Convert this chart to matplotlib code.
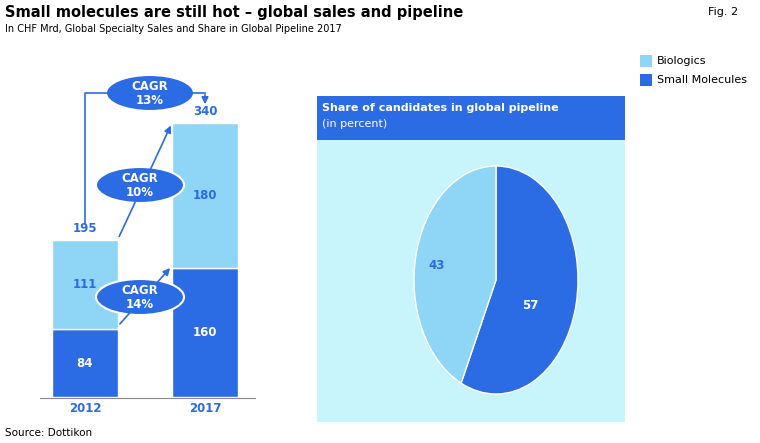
import matplotlib
matplotlib.use("Agg")
import matplotlib.pyplot as plt
from matplotlib.patches import Ellipse, Rectangle

years = ["2012", "2017"]
small = [84, 160]
bio = [111, 180]
totals = [195, 340]
pie_labels = ["Small Molecules", "Biologics"]
pie_vals = [57, 43]
cagr = ["CAGR\n13%", "CAGR\n10%", "CAGR\n14%"]

DARK = "#2b6be3"
LIGHT = "#8fd5f6"
PANEL = "#c8f4fb"
W, H = 760, 443
fig = plt.figure(figsize=(7.6, 4.43), dpi=100)

def ax_px(x0, y0, x1, y1):
    return fig.add_axes([x0 / W, 1 - y1 / H, (x1 - x0) / W, (y1 - y0) / H])

# background
bg = fig.add_axes([0, 0, 1, 1]); bg.set_xlim(0, W); bg.set_ylim(H, 0); bg.axis("off")
bg.add_patch(Rectangle((317, 96), 308, 44, facecolor=DARK, edgecolor="none"))
bg.add_patch(Rectangle((317, 140), 308, 282, facecolor=PANEL, edgecolor="none"))

# bars
bx = ax_px(30, 123, 260, 397)
bx.set_xlim(-0.458, 1.458); bx.set_ylim(0, 340); bx.axis("off")
xs = [0, 1]
bx.bar(xs, small, width=0.55, color=DARK, edgecolor="white", linewidth=1)
bx.bar(xs, bio, bottom=small, width=0.55, color=LIGHT, edgecolor="white", linewidth=1)
for i in xs:
    bx.text(i, small[i] / 2, str(small[i]), color="white", ha="center", va="center", fontsize=8.5, fontweight="bold")
    bx.text(i, small[i] + bio[i] / 2, str(bio[i]), color=DARK, ha="center", va="center", fontsize=8.5, fontweight="bold")
    bx.text(i, totals[i] + 6, str(totals[i]), color=DARK, ha="center", va="bottom", fontsize=8.5, fontweight="bold")

# pie
px = ax_px(414, 166, 578, 394)
px.pie(pie_vals, colors=[DARK, LIGHT], startangle=90, counterclock=False,
       wedgeprops=dict(edgecolor="white", linewidth=1))
px.set_aspect("auto")
px.set_xlim(-1.0, 1.0); px.set_ylim(-1.0, 1.0)
px.text(0.42, -0.22, str(pie_vals[0]), color="white", fontsize=8.5, fontweight="bold", ha="center", va="center")
px.text(-0.72, 0.13, str(pie_vals[1]), color=DARK, fontsize=8.5, fontweight="bold", ha="center", va="center")

# overlay
ov = fig.add_axes([0, 0, 1, 1]); ov.set_xlim(0, W); ov.set_ylim(H, 0); ov.axis("off")
ov.patch.set_alpha(0)
ov.text(5, 12, "Small molecules are still hot – global sales and pipeline", fontsize=10.5, fontweight="bold", va="center")
ov.text(5, 29, "In CHF Mrd, Global Specialty Sales and Share in Global Pipeline 2017", fontsize=7, va="center")
ov.text(708, 12, "Fig. 2", fontsize=8, va="center")
ov.text(5, 433, "Source: Dottikon", fontsize=7.5, va="center")
ov.plot([40, 255], [397.5, 397.5], color="#888888", lw=0.8)
for x, y in zip([85, 205], years):
    ov.text(x, 408, y, color=DARK, ha="center", va="center", fontsize=8.5, fontweight="bold")

ov.plot([85, 85, 205], [224, 93, 93], color=DARK, lw=1.2)
ov.annotate("", xy=(205, 107), xytext=(205, 92), arrowprops=dict(arrowstyle="-|>", color=DARK, lw=1.2))
ov.annotate("", xy=(172, 123), xytext=(118, 239), arrowprops=dict(arrowstyle="-|>", color=DARK, lw=1.2))
ov.annotate("", xy=(172, 266), xytext=(118, 326), arrowprops=dict(arrowstyle="-|>", color=DARK, lw=1.2))
for (cx, cy), t in zip([(150, 93), (140, 185), (140, 297)], cagr):
    ov.add_patch(Ellipse((cx, cy), 88, 36, facecolor=DARK, edgecolor="white", lw=1.5))
    ov.text(cx, cy, t, color="white", ha="center", va="center", fontsize=8.5, fontweight="bold", linespacing=1.1)

ov.text(322, 108, "Share of candidates in global pipeline", color="white", fontsize=8, fontweight="bold", va="center")
ov.text(322, 124, "(in percent)", color="white", fontsize=8, va="center")

for y, lab, c in [(61, pie_labels[1], LIGHT), (80, pie_labels[0], DARK)]:
    ov.add_patch(Rectangle((640, y - 6), 12, 12, facecolor=c, edgecolor="none"))
    ov.text(657, y, lab, fontsize=8, va="center")

fig.savefig("out.png", dpi=100)
